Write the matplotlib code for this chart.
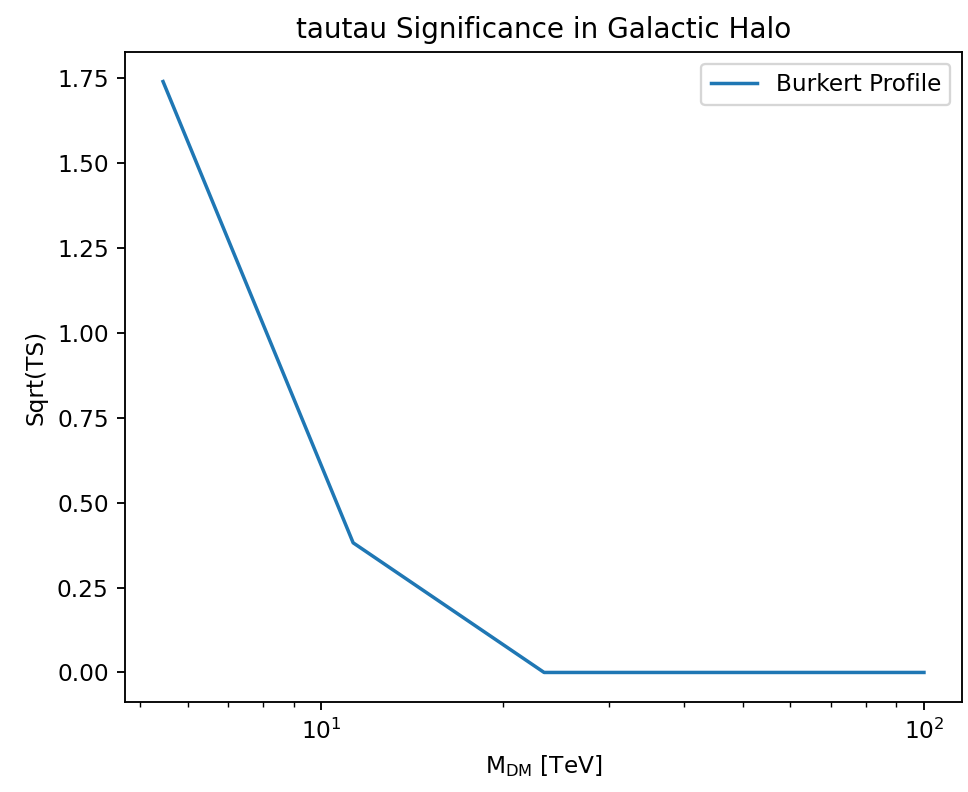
import matplotlib
matplotlib.use("Agg")
import matplotlib.pyplot as plt

mass_tev = [5.46, 11.29, 23.42, 100.0]
sqrt_ts = [1.741, 0.382, 0.0, 0.0]

DPI = 167.5
fig = plt.figure(figsize=(968/DPI, 792/DPI), dpi=DPI)
ax = fig.add_axes([125/968, 1-702/792, (962-125)/968, (702-52)/792])
ax.plot(mass_tev, sqrt_ts, label="Burkert Profile")
ax.set_xscale("log")
ax.set_xlabel(r"M$_{\mathrm{DM}}$ [TeV]")
ax.set_ylabel("Sqrt(TS)")
ax.set_title("tautau Significance in Galactic Halo")
ax.legend()
fig.savefig("out.png", dpi=DPI)
